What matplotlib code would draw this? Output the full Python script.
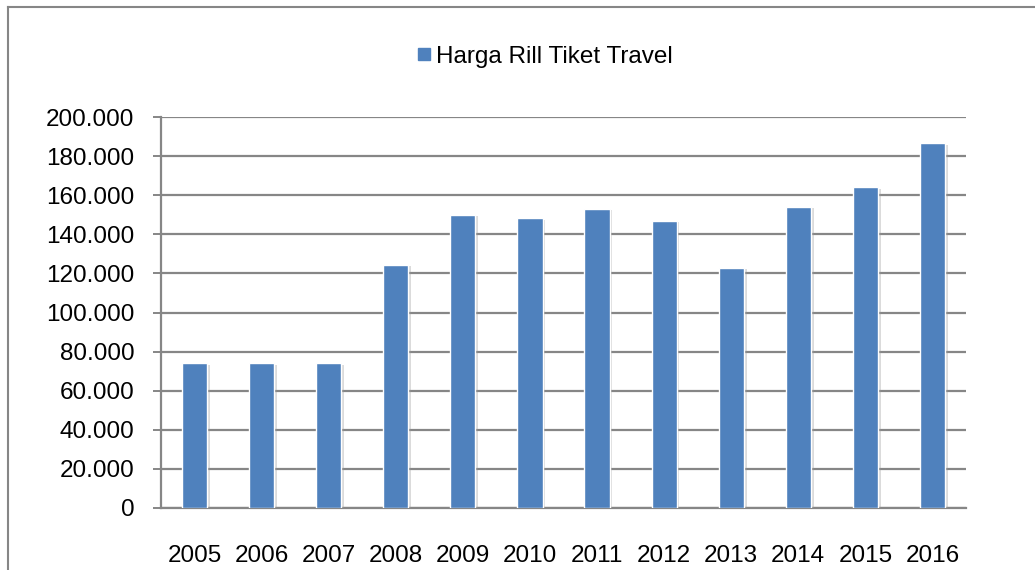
import matplotlib.pyplot as plt
import matplotlib.patheffects as pe
from matplotlib.lines import Line2D
from matplotlib.ticker import FuncFormatter

# Data
years = ['2005', '2006', '2007', '2008', '2009', '2010',
         '2011', '2012', '2013', '2014', '2015', '2016']
harga = [74000, 74000, 74000, 124500, 150000, 148200,
         153100, 147000, 123000, 154000, 164100, 186500]
series_name = 'Harga Rill Tiket Travel'
y_ticks = [0, 20000, 40000, 60000, 80000, 100000, 120000, 140000,
           160000, 180000, 200000]

plt.rcParams['font.family'] = ['Liberation Sans', 'DejaVu Sans']

W, H = 1035, 570
fig = plt.figure(figsize=(W / 100, H / 100), dpi=100)
ax = fig.add_axes([161 / W, 1 - 508 / H, 805 / W, 391 / H])

bars = ax.bar(range(len(years)), harga, width=0.375, color='#4F81BD',
              edgecolor='white', linewidth=1.0, label=series_name, zorder=3)
for b in bars:
    b.set_path_effects([pe.SimplePatchShadow(offset=(2, -1), shadow_rgbFace='#999999', alpha=0.35),
                        pe.Normal()])

ax.set_xlim(-0.5, len(years) - 0.5)
ax.set_ylim(0, 200000)
ax.set_yticks(y_ticks)
ax.yaxis.set_major_formatter(FuncFormatter(lambda v, p: f'{v:,.0f}'.replace(',', '.')))
ax.set_xticks(range(len(years)))
ax.set_xticklabels(years)

ax.grid(axis='y', color='#868686', linewidth=1.6, zorder=0)
ax.set_axisbelow(True)
for s in ['top', 'right']:
    ax.spines[s].set_visible(False)
ax.spines['left'].set_color('#868686')
ax.spines['left'].set_linewidth(1.6)
ax.spines['bottom'].set_color('#868686')
ax.spines['bottom'].set_linewidth(1.6)

ax.tick_params(axis='y', length=6, width=1.4, color='#868686', pad=13, labelsize=17.5)
ax.tick_params(axis='x', length=0, pad=27, labelsize=17.5)

# legend
handle = Line2D([], [], marker='s', linestyle='none', markersize=9,
                markerfacecolor='#4F81BD', markeredgecolor='#4F81BD')
fig.legend([handle], [series_name], loc='center', frameon=False,
           bbox_to_anchor=(542 / W, 1 - 57 / H), fontsize=17.5,
           handletextpad=0.0, handlelength=1.0, borderpad=0)

# chart border (left and top visible)
fig.add_artist(Line2D([8 / W, 8 / W], [0, 1 - 7 / H], color='#868686', linewidth=1.5))
fig.add_artist(Line2D([8 / W, 1], [1 - 7 / H, 1 - 7 / H], color='#868686', linewidth=1.5))

fig.savefig('out.png', dpi=100)
